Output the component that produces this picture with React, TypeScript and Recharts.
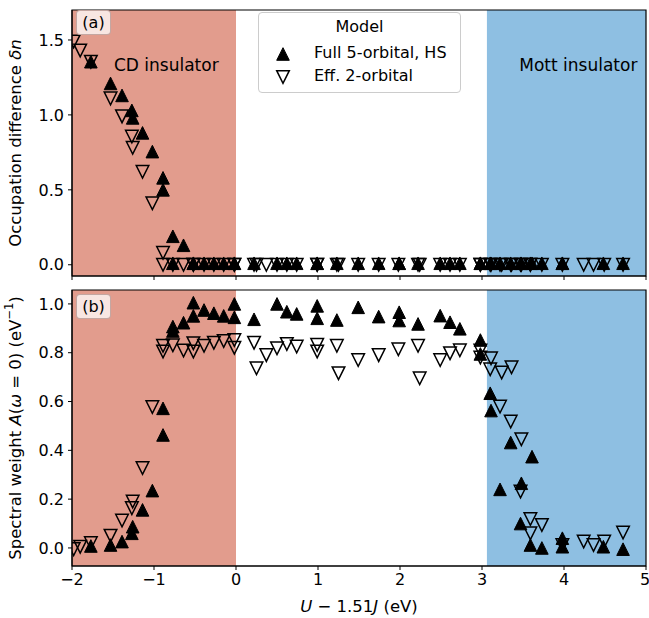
import { Legend, ReferenceArea, Scatter, ScatterChart, XAxis, YAxis } from "recharts";

// full 5-orbital (HS) model: U - 1.51J, occupation difference, spectral weight
const fullU = [
  -1.77, -1.53, -1.39, -1.27, -1.26, -1.14, -1.02, -0.89, -0.89, -0.77, -0.77, -0.64, -0.52, -0.52, -0.39,
  -0.27, -0.15, -0.02, -0.02, 0.22, 0.5, 0.62, 0.74, 0.99, 0.99, 1.23, 1.49, 1.74, 1.99, 1.99, 2.22, 2.49,
  2.61, 2.73, 2.98, 2.98, 3.1, 3.11, 3.22, 3.35, 3.47, 3.48, 3.59, 3.61, 3.73, 3.98, 3.98, 4.48, 4.72,
];
const fullDn = [
  1.355, 1.21, 1.13, 1.03, 0.98, 0.88, 0.755, 0.58, 0.5, 0.19, 0.01, 0.13, 0.01, 0.01, 0.01,
  0.01, 0.01, 0.01, 0.01, 0.01, 0.01, 0.01, 0.01, 0.01, 0.01, 0.01, 0.01, 0.01, 0.01, 0.01, 0.01, 0.01,
  0.01, 0.01, 0.01, 0.01, 0.01, 0.01, 0.01, 0.01, 0.01, 0.01, 0.01, 0.01, 0.01, 0.01, 0.01, 0.01, 0.01,
];
const fullA = [
  0.008, 0.012, 0.026, 0.06, 0.087, 0.156, 0.235, 0.572, 0.463, 0.907, 0.889, 0.923, 1.005, 0.951, 0.975,
  0.962, 0.951, 1.0, 0.945, 0.937, 1.0, 0.968, 0.959, 0.992, 0.941, 0.934, 0.986, 0.948, 0.966, 0.932, 0.918, 0.952,
  0.925, 0.898, 0.852, 0.795, 0.634, 0.563, 0.24, 0.432, 0.1, 0.265, 0.012, 0.374, 0.0, 0.04, 0.005, 0.005, -0.005,
];

// effective 2-orbital model
const effU = [
  -1.98, -1.9, -1.77, -1.53, -1.39, -1.27, -1.26, -1.14, -1.02, -0.89, -0.89, -0.77, -0.64, -0.52, -0.52,
  -0.39, -0.27, -0.15, -0.02, -0.02, 0.22, 0.25, 0.37, 0.5, 0.62, 0.74, 0.99, 0.99, 1.23, 1.25, 1.49, 1.74,
  1.98, 2.22, 2.24, 2.49, 2.61, 2.73, 2.98, 2.98, 3.11, 3.1, 3.24, 3.36, 3.22, 3.35, 3.48, 3.47, 3.59, 3.59,
  3.73, 3.98, 4.24, 4.36, 4.49, 4.72,
];
const effDn = [
  1.49, 1.43, 1.355, 1.11, 0.99, 0.855, 0.78, 0.62, 0.41, 0.08, 0.0, 0.0, 0.0, 0.0, 0.0,
  0.0, 0.0, 0.0, 0.0, 0.0, 0.0, 0.0, 0.0, 0.0, 0.0, 0.0, 0.0, 0.0, 0.0, 0.0, 0.0, 0.0,
  0.0, 0.0, 0.0, 0.0, 0.0, 0.0, 0.0, 0.0, 0.0, 0.0, 0.0, 0.0, 0.0, 0.0, 0.0, 0.0, 0.0, 0.0,
  0.0, 0.0, 0.0, 0.0, 0.0, 0.0,
];
const effA = [
  -0.005, 0.005, 0.02, 0.05, 0.112, 0.163, 0.19, 0.327, 0.577, 0.805, 0.828, 0.83, 0.809, 0.839, 0.805,
  0.828, 0.841, 0.848, 0.852, 0.82, 0.841, 0.736, 0.79, 0.818, 0.836, 0.825, 0.832, 0.805, 0.828, 0.716, 0.77, 0.79,
  0.814, 0.828, 0.695, 0.77, 0.798, 0.81, 0.809, 0.78, 0.777, 0.732, 0.719, 0.74, 0.579, 0.518, 0.445, 0.231, 0.118, 0.06,
  0.094, 0.012, 0.026, 0.012, 0.026, 0.063,
];

const xTicks = [-2, -1, 0, 1, 2, 3, 4, 5];
const dnTicks = [0, 0.5, 1.0, 1.5];
const aTicks = [0, 0.2, 0.4, 0.6, 0.8, 1.0];

const CD_EDGE = 0; // end of charge-disproportionated region
const MOTT_EDGE = 3.06; // start of Mott region

const full = fullU.map((u, i) => ({ u, dn: fullDn[i], a: fullA[i] }));
const eff = effU.map((u, i) => ({ u, dn: effDn[i], a: effA[i] }));

const RED = "#e29c8d";
const BLUE = "#8ebfe2";
const FONT = "DejaVu Sans, sans-serif";
const X_DOM: [number, number] = [-2, 5];
const DN_DOM: [number, number] = [-0.075, 1.7];
const A_DOM: [number, number] = [-0.074, 1.057];

const H = 6.3;
const TriUp = ({ cx, cy }: any) => (
  <path d={`M${cx},${cy - H}L${cx + H},${cy + H}L${cx - H},${cy + H}Z`} fill="#000" stroke="#000" strokeWidth={1} />
);
const TriDown = ({ cx, cy }: any) => (
  <path d={`M${cx - H},${cy - H}L${cx + H},${cy - H}L${cx},${cy + H}Z`} fill="none" stroke="#000" strokeWidth={1.5} />
);

const fmtX = (v: number) => (v < 0 ? `\u2212${-v}` : `${v}`);
const tickStyle = { fill: "#000", fontSize: 16, fontFamily: FONT };
const axisCommon = { tickSize: 4, tickMargin: 4, stroke: "#000", tickLine: { stroke: "#000" }, tick: tickStyle };

function PanelTag({ text, top }: { text: string; top: number }) {
  return (
    <div
      style={{
        position: "absolute", left: 76, top, width: 35, height: 25, boxSizing: "border-box",
        background: "rgba(255,255,255,0.75)", border: "1px solid rgba(190,160,155,0.9)", borderRadius: 4,
        fontSize: 16, lineHeight: "23px", textAlign: "center", fontFamily: FONT,
      }}
    >
      {text}
    </div>
  );
}

function ModelLegend() {
  return (
    <div
      style={{
        width: 203, height: 81, boxSizing: "border-box", background: "rgba(255,255,255,0.9)",
        border: "1px solid #cccccc", borderRadius: 4, fontFamily: FONT, fontSize: 16, color: "#000",
        position: "relative", whiteSpace: "nowrap",
      }}
    >
      <div style={{ position: "absolute", top: 4, width: "100%", textAlign: "center", lineHeight: "20px" }}>Model</div>
      <svg style={{ position: "absolute", left: 16, top: 34 }} width={16} height={40}>
        <TriUp cx={8} cy={7} />
        <TriDown cx={8} cy={30} />
      </svg>
      <div style={{ position: "absolute", left: 55, top: 30, lineHeight: "20px" }}>Full 5-orbital, HS</div>
      <div style={{ position: "absolute", left: 55, top: 53, lineHeight: "20px" }}>Eff. 2-orbital</div>
    </div>
  );
}

export default function App() {
  return (
    <div style={{ position: "absolute", left: 0, top: 0, width: 649, height: 618, fontFamily: FONT, background: "#fff" }}>
      <div style={{ position: "absolute", left: 0, top: 0 }}>
        <ScatterChart width={649} height={290} margin={{ top: 10, right: 3, bottom: 4, left: 22 }}>
          <XAxis type="number" dataKey="u" domain={X_DOM} ticks={xTicks} height={10} allowDataOverflow {...axisCommon} tickFormatter={() => ""} />
          <YAxis
            type="number" dataKey="dn" domain={DN_DOM} ticks={dnTicks} width={50} allowDataOverflow {...axisCommon}
            tickFormatter={(v: number) => v.toFixed(1)}
            label={({ viewBox }: any) => (
              <text x={15} y={viewBox.y + viewBox.height / 2} transform={`rotate(-90 15 ${viewBox.y + viewBox.height / 2})`}
                textAnchor="middle" dominantBaseline="central" fontSize={16.5} fontFamily={FONT} fill="#000">
                Occupation difference <tspan fontStyle="italic">δn</tspan>
              </text>
            )}
          />
          <ReferenceArea x1={-2} x2={CD_EDGE} y1={DN_DOM[0]} y2={DN_DOM[1]} fill={RED} fillOpacity={1} stroke="none" />
          <ReferenceArea x1={MOTT_EDGE} x2={5} y1={DN_DOM[0]} y2={DN_DOM[1]} fill={BLUE} fillOpacity={1} stroke="none" />
          <ReferenceArea x1={-1.5} x2={-0.2} y1={1.28} y2={1.38} fill="none" stroke="none"
            label={{ value: "CD insulator", position: "center", fill: "#000", fontSize: 17, fontFamily: FONT }} />
          <ReferenceArea x1={3.6} x2={4.75} y1={1.28} y2={1.38} fill="none" stroke="none"
            label={{ value: "Mott insulator", position: "center", fill: "#000", fontSize: 17, fontFamily: FONT }} />
          <Scatter data={full} shape={(p: any) => <TriUp {...p} />} isAnimationActive={false} />
          <Scatter data={eff} shape={(p: any) => <TriDown {...p} />} isAnimationActive={false} />
          <ReferenceArea x1={-2} x2={5} y1={DN_DOM[0]} y2={DN_DOM[1]} fill="none" stroke="#000" strokeWidth={1.2} />
          <Legend layout="vertical" align="center" verticalAlign="middle" content={() => <ModelLegend />}
            wrapperStyle={{ left: 258, top: 12, width: 203, height: 81 }} />
        </ScatterChart>
      </div>
      <PanelTag text="(a)" top={10} />
      <div style={{ position: "absolute", left: 0, top: 280 }}>
        <ScatterChart width={649} height={338} margin={{ top: 10, right: 3, bottom: 12, left: 22 }}>
          <XAxis type="number" dataKey="u" domain={X_DOM} ticks={xTicks} height={40} allowDataOverflow {...axisCommon} tickFormatter={fmtX}
            label={({ viewBox }: any) => (
              <text x={viewBox.x + viewBox.width / 2} y={viewBox.y + 40} textAnchor="middle" dominantBaseline="central"
                fontSize={16.5} fontFamily={FONT} fill="#000">
                <tspan fontStyle="italic">U</tspan> − 1.51<tspan fontStyle="italic">J</tspan> (eV)
              </text>
            )}
          />
          <YAxis
            type="number" dataKey="a" domain={A_DOM} ticks={aTicks} width={50} allowDataOverflow {...axisCommon}
            tickFormatter={(v: number) => v.toFixed(1)}
            label={({ viewBox }: any) => (
              <text x={15} y={viewBox.y + viewBox.height / 2} transform={`rotate(-90 15 ${viewBox.y + viewBox.height / 2})`}
                textAnchor="middle" dominantBaseline="central" fontSize={16.5} fontFamily={FONT} fill="#000">
                Spectral weight <tspan fontStyle="italic">A</tspan>(<tspan fontStyle="italic">ω</tspan> = 0) (eV
                <tspan dy={-6} fontSize={11.5}>−1</tspan>
                <tspan dy={6}>)</tspan>
              </text>
            )}
          />
          <ReferenceArea x1={-2} x2={CD_EDGE} y1={A_DOM[0]} y2={A_DOM[1]} fill={RED} fillOpacity={1} stroke="none" />
          <ReferenceArea x1={MOTT_EDGE} x2={5} y1={A_DOM[0]} y2={A_DOM[1]} fill={BLUE} fillOpacity={1} stroke="none" />
          <Scatter data={full} shape={(p: any) => <TriUp {...p} />} isAnimationActive={false} />
          <Scatter data={eff} shape={(p: any) => <TriDown {...p} />} isAnimationActive={false} />
          <ReferenceArea x1={-2} x2={5} y1={A_DOM[0]} y2={A_DOM[1]} fill="none" stroke="#000" strokeWidth={1.2} />
        </ScatterChart>
      </div>
      <PanelTag text="(b)" top={294} />
    </div>
  );
}
